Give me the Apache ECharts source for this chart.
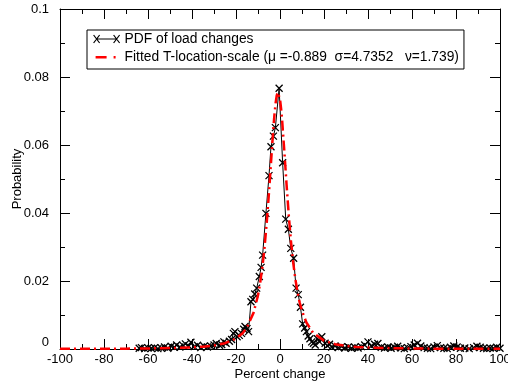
<!DOCTYPE html>
<html>
<head>
<meta charset="utf-8">
<script src="https://cdn.jsdelivr.net/npm/echarts@6/dist/echarts.min.js"></script>
<style>
html,body{margin:0;padding:0;background:#fff;}
#c{width:508px;height:383px;}
</style>
</head>
<body>
<div id="c"></div>
<script>
// Empirical PDF of load changes (percent change, probability)
const pdfX = [-64, -63, -61.5, -60, -58.5, -57, -55.5, -54, -52.5, -51, -49.5, -48, -47, -45.5, -44, -43, -41.5, -40.5, -39, -37.5, -36, -34.5, -33, -31.5, -30, -29, -27.5, -26.5, -25.5, -24.5, -23, -22, -21.2, -20.5, -19.5, -18.5, -17.5, -16.5, -15.9, -15, -14.3, -13.2, -12.4, -11.5, -10.6, -9.4, -8.6, -7.9, -6.4, -5, -4.1, -3, -2.1, -0.4, 1.2, 2.6, 3.8, 4.9, 6.2, 7.3, 8.3, 9.3, 10.3, 11.2, 12, 12.8, 13.6, 14.4, 15.2, 16, 17, 18, 19, 20.5, 21.5, 22.5, 23.5, 25, 26.5, 28, 29.5, 31, 32.5, 34, 35.5, 37, 38.5, 40, 41.5, 43, 44.5, 46, 47.5, 49, 50.5, 52, 53.5, 55, 56.5, 58, 59.5, 61, 62.5, 64, 65.5, 67, 68.5, 70, 71.5, 73, 74.5, 76, 77.5, 79, 80.5, 82, 84, 86, 88, 89.5, 91, 92.5, 94, 95.5, 97, 98.5, 100];
const pdfY = [0.0002, 0.0004, 0.0001, 0.0003, 0.0002, 0.0004, 0.0001, 0.0003, 0.0006, 0.0002, 0.0008, 0.0005, 0.0012, 0.0006, 0.0010, 0.0015, 0.0009, 0.0020, 0.0007, 0.0011, 0.0004, 0.0008, 0.0006, 0.0009, 0.0012, 0.0016, 0.0011, 0.0013, 0.0021, 0.0017, 0.0023, 0.0028, 0.0046, 0.0051, 0.0036, 0.0040, 0.0046, 0.0058, 0.0066, 0.0060, 0.0051, 0.0139, 0.0146, 0.0162, 0.0179, 0.0213, 0.0240, 0.0276, 0.0399, 0.0510, 0.0595, 0.0626, 0.0651, 0.0767, 0.0548, 0.0382, 0.0352, 0.0296, 0.0267, 0.0179, 0.0160, 0.0123, 0.0074, 0.0062, 0.0051, 0.0038, 0.0030, 0.0021, 0.0017, 0.0012, 0.0030, 0.0021, 0.0036, 0.0017, 0.0010, 0.0014, 0.0006, 0.0009, 0.0004, 0.0007, 0.0003, 0.0006, 0.0002, 0.0005, 0.0003, 0.0007, 0.0012, 0.0021, 0.0009, 0.0014, 0.0016, 0.0005, 0.0003, 0.0006, 0.0002, 0.0005, 0.0008, 0.0003, 0.0001, 0.0004, 0.0007, 0.0012, 0.0017, 0.0009, 0.0004, 0.0002, 0.0001, 0.0006, 0.0010, 0.0004, 0.0002, 0.0001, 0.0005, 0.0009, 0.0006, 0.0002, 0.0003, 0.0001, 0.0004, 0.0008, 0.0005, 0.0002, 0.0001, 0.0003, 0.0002, 0.0005, 0.0002];

// Fitted T-location-scale curve
const fitX = [-100, -90, -80, -70, -60, -50, -40, -35, -30, -25, -20, -17, -15, -12, -10, -9, -8, -7, -6, -5, -4, -3, -2.5, -2, -1.5, -1, -0.5, 0, 0.5, 1, 2, 3, 4, 5, 6, 7, 8, 9, 10, 12, 15, 20, 25, 30, 35, 40, 50, 60, 70, 80, 90, 100];
const fitY = [0.00004, 0.00005, 0.00007, 0.00010, 0.00016, 0.00026, 0.00048, 0.00069, 0.00105, 0.00171, 0.00307, 0.00465, 0.00633, 0.0107, 0.0158, 0.0195, 0.0242, 0.0301, 0.0374, 0.0461, 0.0557, 0.0651, 0.0691, 0.0723, 0.0745, 0.0755, 0.0751, 0.0735, 0.0707, 0.0670, 0.0579, 0.0482, 0.0392, 0.0316, 0.0254, 0.0205, 0.0166, 0.0135, 0.0112, 0.0078, 0.0048, 0.00246, 0.00142, 0.00090, 0.00060, 0.00043, 0.00024, 0.00015, 0.00010, 0.00007, 0.00005, 0.00004];

const xTicks = { min: -100, max: 100, interval: 20 };
const yTicks = { min: 0, max: 0.1, interval: 0.02 };

const seriesNames = ['PDF of load changes', 'Fitted T-location-scale (\u03bc =-0.889  \u03c3=4.7352   \u03bd=1.739)'];

const FONT = 'Liberation Sans, Arial, Helvetica, sans-serif';
const pdfData = pdfX.map((x, i) => [x, pdfY[i]]);
const fitData = fitX.map((x, i) => [x, fitY[i]]);

function axisBase(ticks, pos, showLabel) {
  return {
    type: 'value', min: ticks.min, max: ticks.max, interval: ticks.interval, position: pos,
    axisLine: { show: true, onZero: false, lineStyle: { color: '#000', width: 1 } },
    axisTick: { show: true, inside: true, length: 10, lineStyle: { color: '#000', width: 1 } },
    minorTick: { show: true, splitNumber: 2, length: 5, lineStyle: { color: '#000', width: 1 } },
    splitLine: { show: false }, minorSplitLine: { show: false },
    axisLabel: { show: showLabel, color: '#000', fontSize: 13, fontFamily: FONT }
  };
}

const chart = echarts.init(document.getElementById('c'), null, { renderer: 'canvas' });
const xb = axisBase(xTicks, 'bottom', true);
xb.axisLabel.margin = 4;
xb.name = 'Percent change'; xb.nameLocation = 'middle'; xb.nameGap = 19; xb.nameMoveOverlap = false;
xb.nameTextStyle = { color: '#000', fontSize: 13, fontFamily: FONT };
const xt = axisBase(xTicks, 'top', false);
const yl = axisBase(yTicks, 'left', true);
yl.axisLabel.margin = 11;
yl.axisLabel.verticalAlignMinLabel = 'bottom';
yl.name = 'Probability'; yl.nameLocation = 'middle'; yl.nameGap = 36; yl.nameMoveOverlap = false;
yl.nameTextStyle = { color: '#000', fontSize: 13, fontFamily: FONT };
const yr = axisBase(yTicks, 'right', false);

chart.setOption({
  animation: false,
  backgroundColor: '#fff',
  grid: { left: 60, right: 8, top: 9, bottom: 34, containLabel: false, outerBoundsMode: 'none' },
  xAxis: [xb, xt],
  yAxis: [yl, yr],
  legend: {
    orient: 'vertical', left: 87, top: 30, padding: [2, 5, 5, 6], itemGap: 4,
    itemWidth: 26, itemHeight: 10, borderColor: '#000', borderWidth: 1, backgroundColor: '#fff',
    textStyle: { fontSize: 13.8, color: '#000', fontFamily: FONT }, selectedMode: false,
    data: [
      { name: seriesNames[0], icon: 'path://M0,1L6,9M6,1L0,9M3,5L23,5M20,1L26,9M26,1L20,9',
        itemStyle: { color: 'transparent', borderColor: '#000', borderWidth: 1.2 } },
      { name: seriesNames[1], icon: 'path://M0,0L0,0M2,4L13,4L13,6.5L2,6.5ZM20,4L22,4L22,6.5L20,6.5ZM26,10L26,10',
        itemStyle: { color: '#ff0000', borderWidth: 0 } }
    ]
  },
  series: [
    {
      type: 'line', name: seriesNames[0], data: pdfData, xAxisIndex: 0, yAxisIndex: 0,
      symbol: 'path://M0,0L10,10M10,0L0,10', symbolSize: 7,
      itemStyle: { color: '#000', borderColor: '#000', borderWidth: 1.3 },
      lineStyle: { color: '#000', width: 1 }, z: 2
    },
    {
      type: 'line', name: seriesNames[1], data: fitData, xAxisIndex: 0, yAxisIndex: 0,
      symbol: 'none', smooth: false,
      itemStyle: { color: '#ff0000' },
      lineStyle: { color: '#ff0000', width: 2.5, type: [10, 4, 2, 4] }, z: 3
    }
  ]
});
</script>
</body>
</html>
